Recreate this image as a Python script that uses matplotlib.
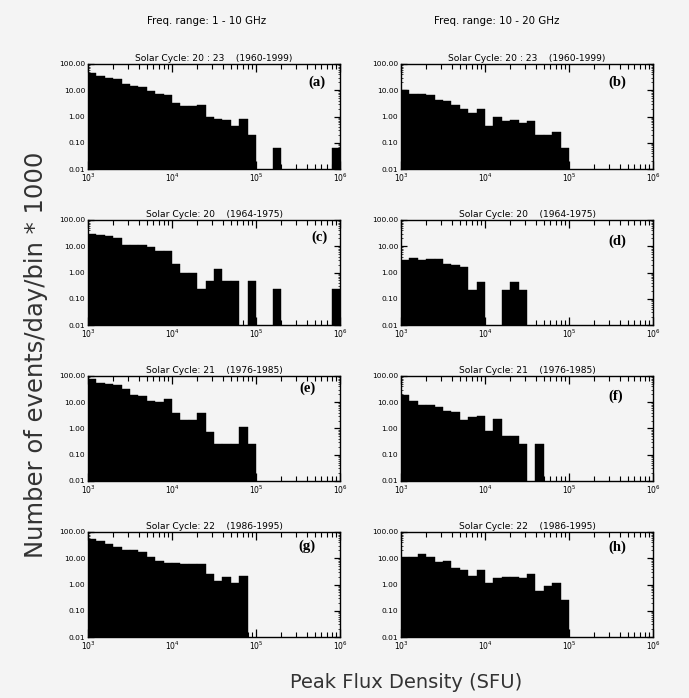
import numpy as np
import matplotlib
matplotlib.use("Agg")
import matplotlib.pyplot as plt

# ---------------- data ----------------
# 10 logarithmic bins per decade, 10^3 .. 10^6 SFU (30 bins)
bin_edges_exp = np.round(np.arange(3.0, 6.0001, 0.1), 2)

a_vals = [45, 35, 30, 28, 18, 15, 13, 9, 7, 6.5,
          3.3, 2.5, 2.5, 2.7, 0.95, 0.8, 0.75, 0.45, 0.8, 0.2,
          0, 0, 0.065, 0, 0, 0, 0, 0, 0, 0.065]
b_vals = [10, 7.5, 7.5, 6.8, 4.4, 4.0, 2.8, 2.0, 1.4, 1.9,
          0.45, 1.0, 0.7, 0.75, 0.55, 0.7, 0.2, 0.2, 0.26, 0.065,
          0, 0, 0, 0, 0, 0, 0, 0, 0, 0]
c_vals = [29, 27, 25, 21.5, 11.5, 11.5, 11, 9, 6.5, 6.5,
          2.2, 0.95, 0.95, 0.23, 0.46, 1.37, 0.46, 0.46, 0, 0.46,
          0, 0, 0.23, 0, 0, 0, 0, 0, 0, 0.23]
d_vals = [3.0, 3.7, 3.0, 3.3, 3.4, 2.2, 1.85, 1.6, 0.22, 0.42,
          0, 0, 0.22, 0.42, 0.22, 0, 0, 0, 0, 0,
          0, 0, 0, 0, 0, 0, 0, 0, 0, 0]
e_vals = [75, 52, 48, 45, 31, 19, 17.5, 11.5, 10, 13,
          4, 2.1, 2.1, 4, 0.74, 0.26, 0.26, 0.26, 1.1, 0.26,
          0, 0, 0, 0, 0, 0, 0, 0, 0, 0]
f_vals = [19, 11.5, 8.2, 8.2, 6.5, 4.7, 4.1, 2.1, 2.7, 3.0,
          0.8, 2.3, 0.52, 0.52, 0.26, 0, 0.26, 0, 0, 0,
          0, 0, 0, 0, 0, 0, 0, 0, 0, 0]
g_vals = [52, 45, 35, 26, 20, 20, 17, 11.5, 8, 6.6,
          6.6, 6, 6, 6, 2.5, 1.4, 2.0, 1.15, 2.2, 0,
          0, 0, 0, 0, 0, 0, 0, 0, 0, 0]
h_vals = [11.5, 11, 14.5, 11.5, 7.2, 7.6, 4.1, 3.6, 2.2, 3.6,
          1.15, 1.7, 1.9, 1.9, 1.7, 2.6, 0.58, 0.87, 1.15, 0.26,
          0, 0, 0, 0, 0, 0, 0, 0, 0, 0]

panel_values = [a_vals, b_vals, c_vals, d_vals, e_vals, f_vals, g_vals, h_vals]
panel_letters = ["(a)", "(b)", "(c)", "(d)", "(e)", "(f)", "(g)", "(h)"]
panel_titles = ["Solar Cycle: 20 : 23    (1960-1999)", "Solar Cycle: 20 : 23    (1960-1999)",
                "Solar Cycle: 20    (1964-1975)", "Solar Cycle: 20    (1964-1975)",
                "Solar Cycle: 21    (1976-1985)", "Solar Cycle: 21    (1976-1985)",
                "Solar Cycle: 22    (1986-1995)", "Solar Cycle: 22    (1986-1995)"]
column_headers = ["Freq. range: 1 - 10 GHz", "Freq. range: 10 - 20 GHz"]
x_tick_vals = [1e3, 1e4, 1e5, 1e6]
x_tick_labels = ["10$^3$", "10$^4$", "10$^5$", "10$^6$"]
y_tick_vals = [0.01, 0.1, 1, 10, 100]
y_tick_labels = ["0.01", "0.10", "1.00", "10.00", "100.00"]
y_label = "Number of events/day/bin * 1000"
x_label = "Peak Flux Density (SFU)"

# ---------------- layout ----------------
W, H = 689, 698
BG = "#f4f4f4"
fig = plt.figure(figsize=(W / 100, H / 100), dpi=100, facecolor=BG)

col_x = [88, 401]
row_top = [64, 220, 376, 532]
ax_w, ax_h = 252, 105
letter_pos = [(0.91, 0.83), (0.86, 0.83), (0.92, 0.84), (0.86, 0.80),
              (0.87, 0.88), (0.85, 0.81), (0.87, 0.86), (0.86, 0.85)]

edges = 10.0 ** bin_edges_exp
widths = np.diff(edges)

for k, vals in enumerate(panel_values):
    r, c = divmod(k, 2)
    x0 = col_x[c]
    y0 = row_top[r]
    ax = fig.add_axes([x0 / W, 1 - (y0 + ax_h) / H, ax_w / W, ax_h / H])
    ax.set_facecolor(BG)
    v = np.asarray(vals, dtype=float)
    m = v > 0
    ax.bar(edges[:-1][m], v[m], width=widths[m], align="edge",
           color="black", edgecolor="black", linewidth=0.3, bottom=0.0)
    ax.set_xscale("log")
    ax.set_yscale("log")
    ax.set_xlim(1e3, 1e6)
    ax.set_ylim(0.01, 100)
    ax.set_xticks(x_tick_vals, labels=x_tick_labels)
    ax.set_yticks(y_tick_vals, labels=y_tick_labels)
    ax.xaxis.set_minor_locator(matplotlib.ticker.LogLocator(base=10, subs=np.arange(2, 10)))
    ax.yaxis.set_minor_locator(matplotlib.ticker.LogLocator(base=10, subs=np.arange(2, 10)))
    ax.xaxis.set_minor_formatter(matplotlib.ticker.NullFormatter())
    ax.yaxis.set_minor_formatter(matplotlib.ticker.NullFormatter())
    ax.tick_params(axis="x", which="major", direction="in", top=True, bottom=True,
                   length=6, width=0.9, labelsize=5.5, pad=2)
    ax.tick_params(axis="x", which="minor", direction="in", top=True, bottom=True,
                   length=3.5, width=0.8)
    ax.tick_params(axis="y", which="major", direction="in", left=True, right=True,
                   length=4, width=0.9, labelsize=5.4, pad=2)
    ax.tick_params(axis="y", which="minor", direction="in", left=True, right=True,
                   length=1.5, width=0.5)
    for s in ax.spines.values():
        s.set_linewidth(1.0)
    ax.set_title(panel_titles[k], fontsize=6.6, pad=2.5)
    lx, ly = letter_pos[k]
    ax.text(lx, ly, panel_letters[k], transform=ax.transAxes, ha="center", va="center",
            fontsize=10.5, family="Liberation Serif", fontweight="bold")

# column headers
fig.text(207 / W, 1 - 21 / H, column_headers[0], ha="center", va="center", fontsize=7.4)
fig.text(497 / W, 1 - 21 / H, column_headers[1], ha="center", va="center", fontsize=7.4)

# axis labels
fig.text(36 / W, 1 - 355 / H, y_label, rotation=90, ha="center", va="center",
         fontsize=17.5, color="#333333")
fig.text(406 / W, 1 - 683 / H, x_label, ha="center", va="center",
         fontsize=14, color="#333333")

fig.savefig("out.png", dpi=100, facecolor=BG)
